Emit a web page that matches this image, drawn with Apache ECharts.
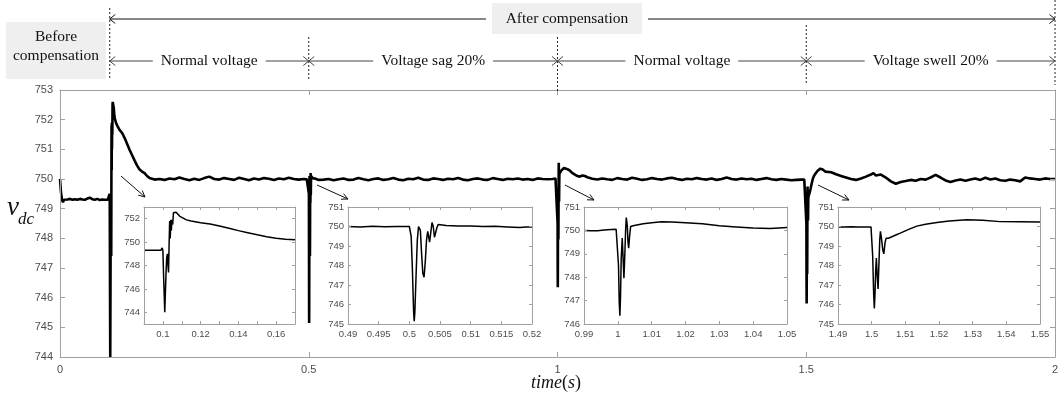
<!DOCTYPE html>
<html><head><meta charset="utf-8">
<script src="https://cdn.jsdelivr.net/npm/echarts@6/dist/echarts.min.js"></script>
<style>html,body{margin:0;padding:0;background:#fff}#c{width:1058px;height:400px}</style>
</head><body><div id="c"></div>
<script>
// ---------------- DATA (time s, v_dc V) ----------------
const preComp = [[0,750.0],[0.002,749.55],[0.004,749.3],[0.006,749.22],[0.008,749.3],[0.01,749.34],[0.015,749.31],[0.02,749.33],[0.025,749.3],[0.03,749.32],[0.035,749.3],[0.04,749.33],[0.045,749.31],[0.05,749.3],[0.055,749.34],[0.06,749.37],[0.065,749.32],[0.07,749.3],[0.075,749.33],[0.08,749.29],[0.085,749.31],[0.09,749.3],[0.093,749.31],[0.096,749.3],[0.099,749.31],[0.0996,749.5]];
const startComp = [[0.1,749.3],[0.1004,747.0],[0.1008,745.0],[0.101,744.0],[0.1013,745.5],[0.1017,747.5],[0.102,748.6],[0.1024,749.0],[0.1027,748.0],[0.103,747.4],[0.1033,749.8],[0.1036,751.8],[0.1039,750.3],[0.1042,751.9],[0.1045,751.0],[0.1048,751.9],[0.1052,751.5],[0.1056,752.5],[0.106,752.6],[0.107,752.55],[0.108,752.4],[0.109,752.2],[0.11,752.05],[0.1125,751.9],[0.115,751.8],[0.12,751.65],[0.125,751.55],[0.13,751.38],[0.135,751.18],[0.14,750.98],[0.145,750.8],[0.15,750.62],[0.155,750.45],[0.16,750.32],[0.165,750.25],[0.17,750.2]];
const normal1 = [[0.175,750.1],[0.18,750.03],[0.19,749.98],[0.2,750.0],[0.21,749.97],[0.22,750.02],[0.23,749.99],[0.24,750.05],[0.25,750.0],[0.26,749.96],[0.27,750.01],[0.28,749.97],[0.29,750.03],[0.3,750.08],[0.31,750.0],[0.32,749.98],[0.33,750.03],[0.34,750.0],[0.35,749.97],[0.36,750.04],[0.37,750.0],[0.38,749.96],[0.39,750.02],[0.4,749.98],[0.41,750.03],[0.42,750.01],[0.43,749.97],[0.44,750.02],[0.45,749.99],[0.46,750.04],[0.47,750.0],[0.48,749.98],[0.49,750.0],[0.492,749.98],[0.494,750.01],[0.496,749.99],[0.498,750.0]];
const sag = [[0.5,750.0],[0.5003,749.5],[0.5005,747.8],[0.5007,745.6],[0.5008,745.15],[0.5009,745.6],[0.5011,747.5],[0.5013,749.3],[0.5015,750.0],[0.5016,750.1],[0.5018,749.8],[0.502,748.6],[0.5022,747.6],[0.5024,747.4],[0.5026,748.2],[0.5028,749.3],[0.503,749.75],[0.5031,749.7],[0.5033,749.2],[0.5035,749.7],[0.5037,750.2],[0.5039,750.0],[0.5041,749.45],[0.5043,749.5],[0.5045,749.95],[0.5047,750.1],[0.505,750.05],[0.506,750.05],[0.508,750.03],[0.51,750.02],[0.512,750.0],[0.514,750.01],[0.516,749.98],[0.518,749.95],[0.519,749.97],[0.52,749.97]];
const sagSteady = [[0.53,749.98],[0.54,750.0],[0.55,749.96],[0.56,749.99],[0.57,750.02],[0.58,749.97],[0.59,749.98],[0.6,750.03],[0.61,749.99],[0.62,749.96],[0.63,750.0],[0.64,750.02],[0.65,749.97],[0.66,749.99],[0.67,750.03],[0.68,749.98],[0.69,749.96],[0.7,750.01],[0.71,749.99],[0.72,750.04],[0.73,749.98],[0.74,749.97],[0.75,750.02],[0.76,750.0],[0.77,749.97],[0.78,750.01],[0.79,749.99],[0.8,750.03],[0.81,749.98],[0.82,749.96],[0.83,750.0],[0.84,750.02],[0.85,749.98],[0.86,749.97],[0.87,750.03],[0.88,750.0],[0.89,749.97],[0.9,750.01],[0.91,749.99],[0.92,750.02],[0.93,749.98],[0.94,750.0],[0.95,749.97],[0.96,750.02],[0.97,750.0],[0.98,749.99],[0.99,750.0],[0.992,749.98],[0.994,749.99],[0.996,750.02],[0.998,750.04],[0.9995,750.05]];
const recover = [[1.0,750.05],[1.0002,748.5],[1.0004,747.0],[1.0006,746.35],[1.0008,747.2],[1.001,748.8],[1.0013,749.67],[1.0015,749.0],[1.0018,747.96],[1.002,748.7],[1.0023,750.0],[1.0025,750.55],[1.0028,750.2],[1.003,749.5],[1.0032,749.24],[1.0035,749.8],[1.0038,750.17],[1.0045,750.2],[1.005,750.22],[1.0075,750.28],[1.01,750.33],[1.013,750.37],[1.016,750.36],[1.02,750.33],[1.025,750.28],[1.03,750.2],[1.035,750.15],[1.04,750.1],[1.045,750.08],[1.05,750.12]];
const normal2 = [[1.055,750.1],[1.06,750.06],[1.07,750.01],[1.08,749.98],[1.09,750.02],[1.1,749.99],[1.11,749.97],[1.12,750.03],[1.13,750.0],[1.14,749.98],[1.15,750.04],[1.16,750.01],[1.17,749.97],[1.18,749.99],[1.19,750.03],[1.2,750.0],[1.21,749.98],[1.22,750.02],[1.23,750.04],[1.24,750.0],[1.25,749.97],[1.26,750.01],[1.27,749.99],[1.28,750.03],[1.29,750.0],[1.3,749.98],[1.31,750.02],[1.32,749.97],[1.33,750.0],[1.34,750.05],[1.35,750.0],[1.36,749.98],[1.37,750.02],[1.38,749.99],[1.39,750.01],[1.4,749.97],[1.41,750.0],[1.42,750.03],[1.43,749.99],[1.44,749.97],[1.45,750.0],[1.46,749.98],[1.47,749.96],[1.48,749.97],[1.49,749.98],[1.492,749.97],[1.494,749.99],[1.496,749.98],[1.498,749.98],[1.4998,749.98]];
const swell = [[1.5,749.97],[1.5003,748.5],[1.5006,746.5],[1.5008,745.8],[1.501,746.6],[1.5012,747.8],[1.5014,748.38],[1.5016,747.6],[1.5019,746.8],[1.5021,747.8],[1.5024,749.3],[1.5026,749.75],[1.5029,749.4],[1.5033,748.8],[1.5036,748.6],[1.504,749.2],[1.5043,749.4],[1.5047,749.35],[1.505,749.4],[1.507,749.55],[1.5085,749.66],[1.511,749.85],[1.5134,750.02],[1.516,750.12],[1.5194,750.2],[1.523,750.28],[1.5283,750.35],[1.533,750.32],[1.5381,750.25],[1.544,750.24],[1.55,750.23]];
const swellSteady = [[1.56,750.16],[1.57,750.1],[1.58,750.05],[1.59,750.0],[1.6,749.97],[1.61,750.02],[1.62,750.08],[1.63,750.15],[1.635,750.2],[1.64,750.12],[1.65,750.15],[1.66,750.05],[1.67,749.92],[1.68,749.84],[1.69,749.9],[1.7,749.93],[1.71,749.97],[1.72,749.94],[1.73,750.0],[1.74,749.98],[1.75,750.05],[1.76,750.14],[1.77,750.05],[1.78,749.95],[1.79,749.9],[1.8,749.95],[1.81,749.98],[1.82,749.94],[1.83,749.98],[1.84,750.02],[1.85,749.97],[1.86,750.04],[1.87,749.98],[1.88,750.02],[1.89,749.96],[1.9,749.94],[1.91,749.98],[1.92,749.96],[1.93,749.92],[1.94,750.05],[1.95,750.02],[1.96,750.0],[1.97,749.98],[1.98,750.02],[1.99,750.0],[2.0,750.0]];
const vdc = [].concat(preComp, startComp, normal1, sag, sagSteady, recover, normal2, swell, swellSteady);

// ---------------- AXES / TICKS / LABELS ----------------
const mainXRange = [0, 2], mainYRange = [744, 753];
const inset1X = [0.09, 0.17], inset1Y = [743, 753];
const inset1XLabels = [0.1, 0.12, 0.14, 0.16], inset1XTicks = [0.1, 0.11, 0.12, 0.13, 0.14, 0.15, 0.16];
const inset1YLabels = [744, 746, 748, 750, 752];
const inset2X = [0.49, 0.52], inset2Y = [745, 751];
const inset2XLabels = [0.49, 0.495, 0.5, 0.505, 0.51, 0.515, 0.52];
const inset2YLabels = [745, 746, 747, 748, 749, 750, 751];
const inset3X = [0.99, 1.05], inset3Y = [746, 751];
const inset3XLabels = [0.99, 1, 1.01, 1.02, 1.03, 1.04, 1.05];
const inset3YLabels = [746, 747, 748, 749, 750, 751];
const inset4X = [1.49, 1.55], inset4Y = [745, 751];
const inset4XLabels = [1.49, 1.5, 1.51, 1.52, 1.53, 1.54, 1.55];
const inset4YLabels = [745, 746, 747, 748, 749, 750, 751];
const sectionBounds = [0.1, 0.5, 1, 1.5, 2];
const sectionLabels = ['Normal voltage', 'Voltage sag 20%', 'Normal voltage', 'Voltage swell 20%'];
const beforeLabel = ['Before', 'compensation'];
const afterLabel = 'After compensation';

// ---------------- LAYOUT ----------------
const AX = '#a0a0a0', LB = '#4d4d4d';
const SANS = '"Liberation Sans", Arial, sans-serif';
const SERIF = '"Liberation Serif", "Times New Roman", serif';
const grids = [
  {left: 60, top: 90, width: 995, height: 267},
  {left: 144, top: 207, width: 151, height: 117},
  {left: 348, top: 207, width: 184, height: 117},
  {left: 584, top: 207, width: 203, height: 117},
  {left: 838, top: 207, width: 202, height: 117}
];
const insets = [
  {x: inset1X, y: inset1Y, xl: inset1XLabels, xt: inset1XTicks, yl: inset1YLabels},
  {x: inset2X, y: inset2Y, xl: inset2XLabels, xt: inset2XLabels, yl: inset2YLabels},
  {x: inset3X, y: inset3Y, xl: inset3XLabels, xt: inset3XLabels, yl: inset3YLabels},
  {x: inset4X, y: inset4Y, xl: inset4XLabels, xt: inset4XLabels, yl: inset4YLabels}
];

const xAxes = [], yAxes = [], series = [];
function axisBase(gi, range, pos, tickLen) {
  return {type: 'value', gridIndex: gi, position: pos, min: range[0], max: range[1], z: 6,
    axisLine: {show: true, onZero: false, lineStyle: {color: AX, width: 1}},
    axisTick: {show: true, inside: true, length: tickLen, lineStyle: {color: AX}},
    splitLine: {show: false}, axisPointer: {show: false}};
}
// main axes
{
  const xb = axisBase(0, mainXRange, 'bottom', 5);
  xb.interval = 0.5;
  xb.axisLabel = {show: true, color: LB, fontSize: 11, fontFamily: SANS, margin: 7};
  const xt = axisBase(0, mainXRange, 'top', 5);
  xt.interval = 0.5; xt.axisLabel = {show: false};
  const yl = axisBase(0, mainYRange, 'left', 5);
  yl.interval = 1;
  yl.axisLabel = {show: true, color: LB, fontSize: 11, fontFamily: SANS, margin: 7};
  const yr = axisBase(0, mainYRange, 'right', 5);
  yr.interval = 1; yr.axisLabel = {show: false};
  xAxes.push(xb, xt); yAxes.push(yl, yr);
  series.push({type: 'line', xAxisIndex: 0, yAxisIndex: 0, data: vdc, showSymbol: false,
    lineStyle: {color: '#000', width: 2.6}, clip: true, z: 3});
}
insets.forEach((ins, k) => {
  const gi = k + 1;
  const xb = axisBase(gi, ins.x, 'bottom', 3);
  xb.axisLabel = {show: true, color: LB, fontSize: 9.5, fontFamily: SANS, margin: 5, customValues: ins.xl};
  xb.axisTick.customValues = ins.xt;
  const xt = axisBase(gi, ins.x, 'top', 3);
  xt.axisLabel = {show: false, customValues: ins.xl}; xt.axisTick.customValues = ins.xt;
  const yl = axisBase(gi, ins.y, 'left', 3);
  yl.axisLabel = {show: true, color: LB, fontSize: 9.5, fontFamily: SANS, margin: 4, customValues: ins.yl};
  yl.axisTick.customValues = ins.yl;
  const yr = axisBase(gi, ins.y, 'right', 3);
  yr.axisLabel = {show: false, customValues: ins.yl}; yr.axisTick.customValues = ins.yl;
  xAxes.push(xb, xt); yAxes.push(yl, yr);
  series.push({type: 'line', xAxisIndex: 2 * gi, yAxisIndex: 2 * gi,
    data: vdc.filter(p => p[0] >= ins.x[0] - 0.002 && p[0] <= ins.x[1] + 0.002),
    showSymbol: false, lineStyle: {color: '#000', width: 1.5}, clip: true, z: 5});
});

const option = {
  animation: false,
  backgroundColor: '#fff',
  grid: grids.map((g, i) => Object.assign({}, g, {
    show: i > 0, backgroundColor: '#fff', borderWidth: 0, containLabel: false,
    outerBoundsMode: 'none', z: 1})),
  xAxis: xAxes, yAxis: yAxes, series: series
};

const chart = echarts.init(document.getElementById('c'), null, {renderer: 'canvas'});
chart.setOption(option);

// ---------------- ANNOTATIONS ----------------
const px = v => chart.convertToPixel({xAxisIndex: 0}, v);
const g = [];
const ctx = document.createElement('canvas').getContext('2d');
const FONT_T = '15.5px ' + SERIF;
ctx.font = FONT_T;
function line(x1, y1, x2, y2, color, dash) {
  g.push({type: 'line', z: 100, silent: true, shape: {x1, y1, x2, y2},
    style: {stroke: color, lineWidth: 1, lineDash: dash || null}});
}
function chevron(x, y, dir, color) {
  g.push({type: 'polyline', z: 100, silent: true,
    shape: {points: [[x - dir * 5.5, y - 4.5], [x, y], [x - dir * 5.5, y + 4.5]]},
    style: {stroke: color, fill: null, lineWidth: 1}});
}
function text(t, x, y, font, align) {
  g.push({type: 'text', z: 101, silent: true, x, y,
    style: {text: t, font: font, fill: '#111', align: align || 'center', verticalAlign: 'middle'}});
}
const bx = sectionBounds.map(px);
// dotted boundaries
const dotTop = [8, 37, 37, 25, 0], dotBot = [80, 80, 92, 85, 85];
bx.forEach((x, i) => line(x, dotTop[i], x, dotBot[i], '#222', [2, 2]));
// before compensation box
g.push({type: 'rect', z: 99, silent: true, shape: {x: 6, y: 22, width: 100, height: 57}, style: {fill: '#efefef'}});
text(beforeLabel[0], 56, 37, FONT_T);
text(beforeLabel[1], 56, 56, FONT_T);
// after compensation row
const topY = 19;
g.push({type: 'rect', z: 99, silent: true, shape: {x: 492, y: 3, width: 150, height: 31}, style: {fill: '#efefef'}});
text(afterLabel, 567, topY, FONT_T);
line(bx[0], topY, 486, topY, '#111');
line(648, topY, bx[4], topY, '#111');
chevron(bx[0], topY, -1, '#111');
chevron(bx[4], topY, 1, '#111');
// section row
const secY = 61;
sectionLabels.forEach((lab, i) => {
  const a = bx[i], b = bx[i + 1], mid = (a + b) / 2;
  const w = ctx.measureText(lab).width;
  text(lab, mid, secY, FONT_T);
  line(a, secY, mid - w / 2 - 8, secY, '#444');
  line(mid + w / 2 + 8, secY, b, secY, '#444');
  chevron(a, secY, -1, '#444');
  chevron(b, secY, 1, '#444');
});
// arrows pointing to insets
const insetArrows = [[121, 176, 145, 197], [317, 185, 348, 199], [565, 185, 594, 200], [818, 185, 849, 200]];
insetArrows.forEach(([x1, y1, x2, y2]) => {
  line(x1, y1, x2, y2, '#111');
  const ang = Math.atan2(y2 - y1, x2 - x1), L = 7, sp = 0.45;
  g.push({type: 'polyline', z: 100, silent: true,
    shape: {points: [[x2 - L * Math.cos(ang - sp), y2 - L * Math.sin(ang - sp)], [x2, y2],
      [x2 - L * Math.cos(ang + sp), y2 - L * Math.sin(ang + sp)]]},
    style: {stroke: '#111', fill: null, lineWidth: 1}});
});
// axis titles
g.push({type: 'text', z: 101, silent: true, x: 7, y: 208,
  style: {text: 'v', font: 'italic 27px ' + SERIF, fill: '#111', align: 'left', verticalAlign: 'middle'}});
g.push({type: 'text', z: 101, silent: true, x: 18, y: 220,
  style: {text: 'dc', font: 'italic 17px ' + SERIF, fill: '#111', align: 'left', verticalAlign: 'middle'}});
g.push({type: 'text', z: 101, silent: true, x: 556, y: 383,
  style: {text: '{i|time}{n|(}{i|s}{n|)}', align: 'center', verticalAlign: 'middle',
    rich: {i: {font: 'italic 18px ' + SERIF, fill: '#111'}, n: {font: '18px ' + SERIF, fill: '#111'}}}});
chart.setOption({graphic: g});
</script>
</body></html>
